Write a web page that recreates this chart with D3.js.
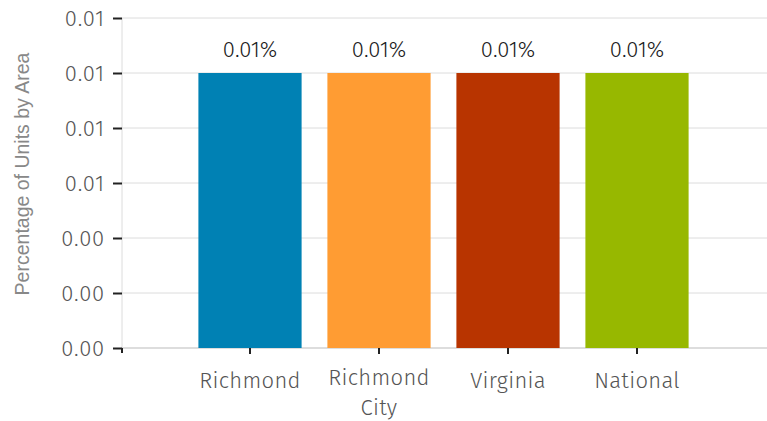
<!DOCTYPE html>
<html lang="en">
<head>
<meta charset="UTF-8">
<script src="https://d3js.org/d3.v7.min.js"></script>
<style>
  body { margin: 0; background: #fff; }
  text { font-family: "Fira Sans", "Open Sans", "DejaVu Sans", sans-serif; font-weight: 300; }
</style>
</head>
<body>
<svg width="767" height="421"></svg>
<script>
const categories = ['Richmond', 'Richmond City', 'Virginia', 'National'];
const values = [0.01, 0.01, 0.01, 0.01];
const barLabels = ['0.01%', '0.01%', '0.01%', '0.01%'];
const colors = ['#0081b4', '#ff9c33', '#b83400', '#97b800'];
const yTicks = [0, 0.002, 0.004, 0.006, 0.008, 0.010, 0.012];

const svg = d3.select('svg');
const plotLeft = 122, plotRight = 767, plotTop = 18, plotBottom = 348;

const x = d3.scaleBand()
    .domain(categories)
    .range([185.5, 701.5])
    .paddingInner(0.2)
    .paddingOuter(0.1);

const y = d3.scaleLinear()
    .domain([0, 0.012])
    .range([plotBottom, plotTop]);

// gridlines
svg.append('g')
    .selectAll('line')
    .data(yTicks)
    .join('line')
    .attr('x1', plotLeft)
    .attr('x2', plotRight)
    .attr('y1', d => y(d))
    .attr('y2', d => y(d))
    .attr('stroke', d => d === 0 ? '#bbb' : '#dcdcdc')
    .attr('stroke-width', 1);

svg.append('line')
    .attr('x1', plotLeft).attr('x2', plotLeft)
    .attr('y1', plotTop).attr('y2', plotBottom)
    .attr('stroke', '#dcdcdc');

// bars
svg.append('g')
    .selectAll('rect')
    .data(categories)
    .join('rect')
    .attr('x', d => x(d))
    .attr('y', (d, i) => y(values[i]))
    .attr('width', x.bandwidth())
    .attr('height', (d, i) => y(0) - y(values[i]))
    .attr('fill', (d, i) => colors[i]);

// value labels
svg.append('g')
    .selectAll('text')
    .data(categories)
    .join('text')
    .attr('x', d => x(d) + x.bandwidth() / 2)
    .attr('y', (d, i) => y(values[i]) - 16)
    .attr('text-anchor', 'middle')
    .style('font-size', '22px')
    .style('fill', '#1a1a1a')
    .text((d, i) => barLabels[i]);

// y axis
const yAxis = svg.append('g')
    .attr('transform', `translate(${plotLeft},0)`)
    .call(d3.axisLeft(y).tickValues(yTicks).tickFormat(d3.format('.2f')).tickSizeOuter(0).tickSize(9));
yAxis.select('.domain').remove();
yAxis.selectAll('.tick line').attr('stroke', '#222').attr('stroke-width', 2);
yAxis.selectAll('.tick text')
    .attr('x', -17)
    .style('font-size', '22px')
    .style('letter-spacing', '0.8px')
    .style('fill', '#555');
svg.append('line')
    .attr('x1', plotLeft).attr('x2', plotLeft)
    .attr('y1', plotBottom).attr('y2', plotBottom + 5)
    .attr('stroke', '#222').attr('stroke-width', 2);

// x axis
const xAxis = svg.append('g')
    .attr('transform', `translate(0,${plotBottom})`)
    .call(d3.axisBottom(x).tickSize(6).tickSizeOuter(0));
xAxis.select('.domain').remove();
xAxis.selectAll('.tick line').attr('stroke', '#222').attr('stroke-width', 2);
xAxis.selectAll('.tick text').remove();
xAxis.selectAll('.tick').each(function(d) {
    const words = d === 'Richmond City' ? ['Richmond', 'City'] : [d];
    const t = d3.select(this).append('text')
        .attr('text-anchor', 'middle')
        .style('font-size', '22px')
        .style('letter-spacing', '0.3px')
        .style('fill', '#555');
    words.forEach((w, i) => {
        t.append('tspan')
            .attr('x', 0)
            .attr('y', (words.length > 1 ? 37 : 40) + i * 30)
            .text(w);
    });
});

// y title
svg.append('text')
    .attr('transform', `translate(29,174) rotate(-90)`)
    .attr('text-anchor', 'middle')
    .style('font-family', '"Liberation Sans", Arial, sans-serif')
    .style('font-weight', 400)
    .style('font-size', '19.5px')
    .style('fill', '#888')
    .text('Percentage of Units by Area');
</script>
</body>
</html>
